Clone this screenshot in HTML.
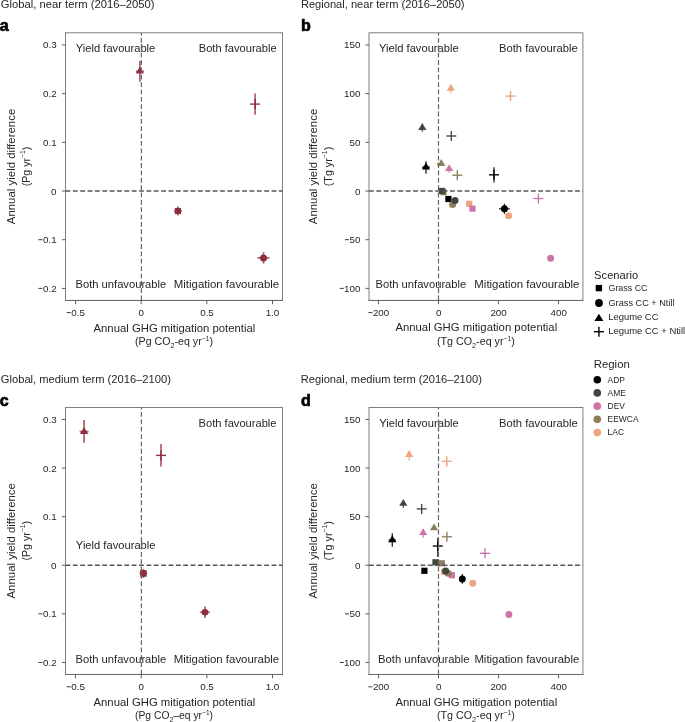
<!DOCTYPE html>
<html><head><meta charset="utf-8"><style>
html,body{margin:0;padding:0;background:#fff;}
svg{display:block;font-family:"Liberation Sans", sans-serif;will-change:transform;}
</style></head><body>
<svg width="685" height="722" viewBox="0 0 685 722">
<rect width="685" height="722" fill="#fff"/>
<text x="0.79" y="8.0" font-size="11" fill="#262626" textLength="153.61" lengthAdjust="spacingAndGlyphs">Global, near term (2016–2050)</text>
<text x="300.92" y="8.0" font-size="11" fill="#262626" textLength="163.66" lengthAdjust="spacingAndGlyphs">Regional, near term (2016–2050)</text>
<text x="0.79" y="383.4" font-size="11" fill="#262626" textLength="170.17" lengthAdjust="spacingAndGlyphs">Global, medium term (2016–2100)</text>
<text x="300.82" y="383.4" font-size="11" fill="#262626" textLength="181.05" lengthAdjust="spacingAndGlyphs">Regional, medium term (2016–2100)</text>
<text x="-0.3" y="30.6" font-size="16" font-weight="bold" fill="#000" stroke="#000" stroke-width="0.65">a</text>
<text x="301.0" y="30.6" font-size="16" font-weight="bold" fill="#000" stroke="#000" stroke-width="0.65">b</text>
<text x="-0.3" y="405.7" font-size="16" font-weight="bold" fill="#000" stroke="#000" stroke-width="0.65">c</text>
<text x="301.0" y="405.5" font-size="16" font-weight="bold" fill="#000" stroke="#000" stroke-width="0.65">d</text>
<rect x="65.5" y="32.8" width="217.00" height="267.60" fill="none" stroke="#7f7f7f" stroke-width="1"/>
<line x1="65.0" y1="300.5" x2="283.0" y2="300.5" stroke="#6a6a6a" stroke-width="1"/>
<line x1="61.9" y1="44.96" x2="65.5" y2="44.96" stroke="#4d4d4d" stroke-width="0.9"/>
<text x="42.98" y="48.46" font-size="9.8" fill="#262626">0.3</text>
<line x1="61.9" y1="93.646" x2="65.5" y2="93.646" stroke="#4d4d4d" stroke-width="0.9"/>
<text x="42.98" y="97.146" font-size="9.8" fill="#262626">0.2</text>
<line x1="61.9" y1="142.332" x2="65.5" y2="142.332" stroke="#4d4d4d" stroke-width="0.9"/>
<text x="42.98" y="145.832" font-size="9.8" fill="#262626">0.1</text>
<line x1="61.9" y1="191.018" x2="65.5" y2="191.018" stroke="#4d4d4d" stroke-width="0.9"/>
<text x="50.98" y="194.518" font-size="9.8" fill="#262626">0</text>
<line x1="61.9" y1="239.704" x2="65.5" y2="239.704" stroke="#4d4d4d" stroke-width="0.9"/>
<text x="42.98" y="243.204" font-size="9.8" fill="#262626">0.1</text>
<line x1="38.4" y1="239.7" x2="42.4" y2="239.7" stroke="#262626" stroke-width="0.9"/>
<line x1="61.9" y1="288.39" x2="65.5" y2="288.39" stroke="#4d4d4d" stroke-width="0.9"/>
<text x="42.98" y="291.89" font-size="9.8" fill="#262626">0.2</text>
<line x1="38.4" y1="288.39" x2="42.4" y2="288.39" stroke="#262626" stroke-width="0.9"/>
<line x1="75.52" y1="300.4" x2="75.52" y2="304.2" stroke="#4d4d4d" stroke-width="0.9"/>
<text x="71.33" y="316.1" font-size="9.8" fill="#262626">0.5</text>
<line x1="66.76" y1="312.6" x2="70.76" y2="312.6" stroke="#262626" stroke-width="0.9"/>
<line x1="141.187" y1="300.4" x2="141.187" y2="304.2" stroke="#4d4d4d" stroke-width="0.9"/>
<text x="138.59" y="316.1" font-size="9.8" fill="#262626">0</text>
<line x1="206.85399999999998" y1="300.4" x2="206.85399999999998" y2="304.2" stroke="#4d4d4d" stroke-width="0.9"/>
<text x="200.19" y="316.1" font-size="9.8" fill="#262626">0.5</text>
<line x1="272.521" y1="300.4" x2="272.521" y2="304.2" stroke="#4d4d4d" stroke-width="0.9"/>
<text x="265.67" y="316.1" font-size="9.8" fill="#262626">1.0</text>
<rect x="369.0" y="32.8" width="213.90" height="267.60" fill="none" stroke="#7f7f7f" stroke-width="1"/>
<line x1="368.5" y1="300.5" x2="583.4" y2="300.5" stroke="#6a6a6a" stroke-width="1"/>
<line x1="365.4" y1="44.96" x2="369.0" y2="44.96" stroke="#4d4d4d" stroke-width="0.9"/>
<text x="344.0" y="48.46" font-size="9.8" fill="#262626">150</text>
<line x1="365.4" y1="93.646" x2="369.0" y2="93.646" stroke="#4d4d4d" stroke-width="0.9"/>
<text x="344.0" y="97.146" font-size="9.8" fill="#262626">100</text>
<line x1="365.4" y1="142.332" x2="369.0" y2="142.332" stroke="#4d4d4d" stroke-width="0.9"/>
<text x="349.5" y="145.832" font-size="9.8" fill="#262626">50</text>
<line x1="365.4" y1="191.018" x2="369.0" y2="191.018" stroke="#4d4d4d" stroke-width="0.9"/>
<text x="354.88" y="194.518" font-size="9.8" fill="#262626">0</text>
<line x1="365.4" y1="239.704" x2="369.0" y2="239.704" stroke="#4d4d4d" stroke-width="0.9"/>
<text x="349.5" y="243.204" font-size="9.8" fill="#262626">50</text>
<line x1="344.93" y1="239.7" x2="348.93" y2="239.7" stroke="#262626" stroke-width="0.9"/>
<line x1="365.4" y1="288.39" x2="369.0" y2="288.39" stroke="#4d4d4d" stroke-width="0.9"/>
<text x="344.0" y="291.89" font-size="9.8" fill="#262626">100</text>
<line x1="339.8" y1="288.39" x2="343.8" y2="288.39" stroke="#262626" stroke-width="0.9"/>
<line x1="378.52" y1="300.4" x2="378.52" y2="304.2" stroke="#4d4d4d" stroke-width="0.9"/>
<text x="372.89" y="316.1" font-size="9.8" fill="#262626">200</text>
<line x1="368.44" y1="312.6" x2="372.44" y2="312.6" stroke="#262626" stroke-width="0.9"/>
<line x1="438.507" y1="300.4" x2="438.507" y2="304.2" stroke="#4d4d4d" stroke-width="0.9"/>
<text x="435.91" y="316.1" font-size="9.8" fill="#262626">0</text>
<line x1="498.49399999999997" y1="300.4" x2="498.49399999999997" y2="304.2" stroke="#4d4d4d" stroke-width="0.9"/>
<text x="490.39" y="316.1" font-size="9.8" fill="#262626">200</text>
<line x1="558.481" y1="300.4" x2="558.481" y2="304.2" stroke="#4d4d4d" stroke-width="0.9"/>
<text x="550.51" y="316.1" font-size="9.8" fill="#262626">400</text>
<rect x="65.5" y="407.5" width="217.00" height="266.95" fill="none" stroke="#7f7f7f" stroke-width="1"/>
<line x1="65.0" y1="674.5" x2="283.0" y2="674.5" stroke="#6a6a6a" stroke-width="1"/>
<line x1="61.9" y1="419.45" x2="65.5" y2="419.45" stroke="#4d4d4d" stroke-width="0.9"/>
<text x="42.98" y="422.95" font-size="9.8" fill="#262626">0.3</text>
<line x1="61.9" y1="468.056" x2="65.5" y2="468.056" stroke="#4d4d4d" stroke-width="0.9"/>
<text x="42.98" y="471.556" font-size="9.8" fill="#262626">0.2</text>
<line x1="61.9" y1="516.662" x2="65.5" y2="516.662" stroke="#4d4d4d" stroke-width="0.9"/>
<text x="42.98" y="520.162" font-size="9.8" fill="#262626">0.1</text>
<line x1="61.9" y1="565.268" x2="65.5" y2="565.268" stroke="#4d4d4d" stroke-width="0.9"/>
<text x="50.98" y="568.768" font-size="9.8" fill="#262626">0</text>
<line x1="61.9" y1="613.874" x2="65.5" y2="613.874" stroke="#4d4d4d" stroke-width="0.9"/>
<text x="42.98" y="617.374" font-size="9.8" fill="#262626">0.1</text>
<line x1="38.4" y1="613.87" x2="42.4" y2="613.87" stroke="#262626" stroke-width="0.9"/>
<line x1="61.9" y1="662.48" x2="65.5" y2="662.48" stroke="#4d4d4d" stroke-width="0.9"/>
<text x="42.98" y="665.98" font-size="9.8" fill="#262626">0.2</text>
<line x1="38.4" y1="662.48" x2="42.4" y2="662.48" stroke="#262626" stroke-width="0.9"/>
<line x1="75.52" y1="674.45" x2="75.52" y2="678.25" stroke="#4d4d4d" stroke-width="0.9"/>
<text x="71.33" y="690.3" font-size="9.8" fill="#262626">0.5</text>
<line x1="66.76" y1="686.8" x2="70.76" y2="686.8" stroke="#262626" stroke-width="0.9"/>
<line x1="141.187" y1="674.45" x2="141.187" y2="678.25" stroke="#4d4d4d" stroke-width="0.9"/>
<text x="138.59" y="690.3" font-size="9.8" fill="#262626">0</text>
<line x1="206.85399999999998" y1="674.45" x2="206.85399999999998" y2="678.25" stroke="#4d4d4d" stroke-width="0.9"/>
<text x="200.19" y="690.3" font-size="9.8" fill="#262626">0.5</text>
<line x1="272.521" y1="674.45" x2="272.521" y2="678.25" stroke="#4d4d4d" stroke-width="0.9"/>
<text x="265.67" y="690.3" font-size="9.8" fill="#262626">1.0</text>
<rect x="369.0" y="407.5" width="213.90" height="266.95" fill="none" stroke="#7f7f7f" stroke-width="1"/>
<line x1="368.5" y1="674.5" x2="583.4" y2="674.5" stroke="#6a6a6a" stroke-width="1"/>
<line x1="365.4" y1="419.45" x2="369.0" y2="419.45" stroke="#4d4d4d" stroke-width="0.9"/>
<text x="344.0" y="422.95" font-size="9.8" fill="#262626">150</text>
<line x1="365.4" y1="468.056" x2="369.0" y2="468.056" stroke="#4d4d4d" stroke-width="0.9"/>
<text x="344.0" y="471.556" font-size="9.8" fill="#262626">100</text>
<line x1="365.4" y1="516.662" x2="369.0" y2="516.662" stroke="#4d4d4d" stroke-width="0.9"/>
<text x="349.5" y="520.162" font-size="9.8" fill="#262626">50</text>
<line x1="365.4" y1="565.268" x2="369.0" y2="565.268" stroke="#4d4d4d" stroke-width="0.9"/>
<text x="354.88" y="568.768" font-size="9.8" fill="#262626">0</text>
<line x1="365.4" y1="613.874" x2="369.0" y2="613.874" stroke="#4d4d4d" stroke-width="0.9"/>
<text x="349.5" y="617.374" font-size="9.8" fill="#262626">50</text>
<line x1="344.93" y1="613.87" x2="348.93" y2="613.87" stroke="#262626" stroke-width="0.9"/>
<line x1="365.4" y1="662.48" x2="369.0" y2="662.48" stroke="#4d4d4d" stroke-width="0.9"/>
<text x="344.0" y="665.98" font-size="9.8" fill="#262626">100</text>
<line x1="339.8" y1="662.48" x2="343.8" y2="662.48" stroke="#262626" stroke-width="0.9"/>
<line x1="378.52" y1="674.45" x2="378.52" y2="678.25" stroke="#4d4d4d" stroke-width="0.9"/>
<text x="372.89" y="690.3" font-size="9.8" fill="#262626">200</text>
<line x1="368.44" y1="686.8" x2="372.44" y2="686.8" stroke="#262626" stroke-width="0.9"/>
<line x1="438.507" y1="674.45" x2="438.507" y2="678.25" stroke="#4d4d4d" stroke-width="0.9"/>
<text x="435.91" y="690.3" font-size="9.8" fill="#262626">0</text>
<line x1="498.49399999999997" y1="674.45" x2="498.49399999999997" y2="678.25" stroke="#4d4d4d" stroke-width="0.9"/>
<text x="490.39" y="690.3" font-size="9.8" fill="#262626">200</text>
<line x1="558.481" y1="674.45" x2="558.481" y2="678.25" stroke="#4d4d4d" stroke-width="0.9"/>
<text x="550.51" y="690.3" font-size="9.8" fill="#262626">400</text>
<text x="93.50" y="331.6" font-size="11" fill="#262626" textLength="161.80" lengthAdjust="spacingAndGlyphs">Annual GHG mitigation potential</text>
<text x="174.0" y="345.4" font-size="11" text-anchor="middle" fill="#262626" textLength="78" lengthAdjust="spacingAndGlyphs">(Pg CO<tspan font-size="7.5" dy="2.6">2</tspan><tspan dy="-2.6">-eq yr</tspan><tspan font-size="7" dy="-4.2">−1</tspan><tspan dy="4.2">)</tspan></text>
<text x="395.40" y="331.4" font-size="11" fill="#262626" textLength="161.80" lengthAdjust="spacingAndGlyphs">Annual GHG mitigation potential</text>
<text x="475.9" y="345.3" font-size="11" text-anchor="middle" fill="#262626" textLength="78" lengthAdjust="spacingAndGlyphs">(Tg CO<tspan font-size="7.5" dy="2.6">2</tspan><tspan dy="-2.6">-eq yr</tspan><tspan font-size="7" dy="-4.2">−1</tspan><tspan dy="4.2">)</tspan></text>
<text x="93.50" y="705.6" font-size="11" fill="#262626" textLength="161.80" lengthAdjust="spacingAndGlyphs">Annual GHG mitigation potential</text>
<text x="174.0" y="719.4" font-size="11" text-anchor="middle" fill="#262626" textLength="78" lengthAdjust="spacingAndGlyphs">(Pg CO<tspan font-size="7.5" dy="2.6">2</tspan><tspan dy="-2.6">–eq yr</tspan><tspan font-size="7" dy="-4.2">−1</tspan><tspan dy="4.2">)</tspan></text>
<text x="395.40" y="705.8" font-size="11" fill="#262626" textLength="161.80" lengthAdjust="spacingAndGlyphs">Annual GHG mitigation potential</text>
<text x="475.9" y="719.0" font-size="11" text-anchor="middle" fill="#262626" textLength="78" lengthAdjust="spacingAndGlyphs">(Tg CO<tspan font-size="7.5" dy="2.6">2</tspan><tspan dy="-2.6">-eq yr</tspan><tspan font-size="7" dy="-4.2">−1</tspan><tspan dy="4.2">)</tspan></text>
<g transform="translate(15.3,166.5) rotate(-90)"><text x="0" y="0" font-size="11" text-anchor="middle" fill="#262626" textLength="115.5" lengthAdjust="spacingAndGlyphs">Annual yield difference</text></g>
<g transform="translate(29.5,166.5) rotate(-90)"><text x="0" y="0" font-size="11" text-anchor="middle" fill="#262626" textLength="39.5" lengthAdjust="spacingAndGlyphs">(Pg yr<tspan font-size="7" dy="-4.2">−1</tspan><tspan dy="4.2">)</tspan></text></g>
<g transform="translate(317.2,166.5) rotate(-90)"><text x="0" y="0" font-size="11" text-anchor="middle" fill="#262626" textLength="115.5" lengthAdjust="spacingAndGlyphs">Annual yield difference</text></g>
<g transform="translate(331.6,166.5) rotate(-90)"><text x="0" y="0" font-size="11" text-anchor="middle" fill="#262626" textLength="39.5" lengthAdjust="spacingAndGlyphs">(Tg yr<tspan font-size="7" dy="-4.2">−1</tspan><tspan dy="4.2">)</tspan></text></g>
<g transform="translate(15.3,540.8) rotate(-90)"><text x="0" y="0" font-size="11" text-anchor="middle" fill="#262626" textLength="115.5" lengthAdjust="spacingAndGlyphs">Annual yield difference</text></g>
<g transform="translate(29.5,540.8) rotate(-90)"><text x="0" y="0" font-size="11" text-anchor="middle" fill="#262626" textLength="39.5" lengthAdjust="spacingAndGlyphs">(Pg yr<tspan font-size="7" dy="-4.2">−1</tspan><tspan dy="4.2">)</tspan></text></g>
<g transform="translate(317.2,540.8) rotate(-90)"><text x="0" y="0" font-size="11" text-anchor="middle" fill="#262626" textLength="115.5" lengthAdjust="spacingAndGlyphs">Annual yield difference</text></g>
<g transform="translate(331.6,540.8) rotate(-90)"><text x="0" y="0" font-size="11" text-anchor="middle" fill="#262626" textLength="39.5" lengthAdjust="spacingAndGlyphs">(Tg yr<tspan font-size="7" dy="-4.2">−1</tspan><tspan dy="4.2">)</tspan></text></g>
<text x="75.85" y="52.0" font-size="11" fill="#262626" textLength="79.44" lengthAdjust="spacingAndGlyphs">Yield favourable</text>
<text x="198.72" y="51.8" font-size="11" fill="#262626" textLength="77.93" lengthAdjust="spacingAndGlyphs">Both favourable</text>
<text x="75.51" y="287.8" font-size="11" fill="#262626" textLength="90.74" lengthAdjust="spacingAndGlyphs">Both unfavourable</text>
<text x="173.79" y="287.8" font-size="11" fill="#262626" textLength="105.44" lengthAdjust="spacingAndGlyphs">Mitigation favourable</text>
<text x="379.05" y="51.8" font-size="11" fill="#262626" textLength="79.65" lengthAdjust="spacingAndGlyphs">Yield favourable</text>
<text x="499.01" y="51.7" font-size="11" fill="#262626" textLength="78.64" lengthAdjust="spacingAndGlyphs">Both favourable</text>
<text x="375.51" y="287.8" font-size="11" fill="#262626" textLength="90.74" lengthAdjust="spacingAndGlyphs">Both unfavourable</text>
<text x="474.39" y="287.8" font-size="11" fill="#262626" textLength="105.04" lengthAdjust="spacingAndGlyphs">Mitigation favourable</text>
<text x="75.85" y="548.8" font-size="11" fill="#262626" textLength="79.65" lengthAdjust="spacingAndGlyphs">Yield favourable</text>
<text x="198.62" y="426.8" font-size="11" fill="#262626" textLength="77.93" lengthAdjust="spacingAndGlyphs">Both favourable</text>
<text x="75.51" y="662.7" font-size="11" fill="#262626" textLength="90.74" lengthAdjust="spacingAndGlyphs">Both unfavourable</text>
<text x="173.79" y="662.7" font-size="11" fill="#262626" textLength="105.44" lengthAdjust="spacingAndGlyphs">Mitigation favourable</text>
<text x="379.25" y="426.6" font-size="11" fill="#262626" textLength="79.54" lengthAdjust="spacingAndGlyphs">Yield favourable</text>
<text x="499.01" y="426.6" font-size="11" fill="#262626" textLength="78.64" lengthAdjust="spacingAndGlyphs">Both favourable</text>
<text x="378.10" y="662.7" font-size="11" fill="#262626" textLength="91.35" lengthAdjust="spacingAndGlyphs">Both unfavourable</text>
<text x="474.40" y="662.7" font-size="11" fill="#262626" textLength="104.84" lengthAdjust="spacingAndGlyphs">Mitigation favourable</text>
<line x1="135.9" y1="71.3" x2="143.9" y2="71.3" stroke="#8f2e3e" stroke-width="1.8" stroke-opacity="0.72"/>
<line x1="139.9" y1="61.099999999999994" x2="139.9" y2="81.8" stroke="#8f2e3e" stroke-width="1.8" stroke-opacity="0.72"/>
<path d="M139.90 66.70L144.00 73.60L135.80 73.60Z" fill="#8f2e3e"/>
<line x1="255.1" y1="93.39999999999999" x2="255.1" y2="114.69999999999999" stroke="#8f2e3e" stroke-width="1.8" stroke-opacity="0.72"/>
<line x1="250.1" y1="104.1" x2="260.1" y2="104.1" stroke="#8f2e3e" stroke-width="1.35"/>
<line x1="255.1" y1="99.1" x2="255.1" y2="109.1" stroke="#8f2e3e" stroke-width="1.35"/>
<line x1="173.9" y1="211.0" x2="181.9" y2="211.0" stroke="#8f2e3e" stroke-width="1.8" stroke-opacity="0.72"/>
<line x1="177.9" y1="206.5" x2="177.9" y2="215.5" stroke="#8f2e3e" stroke-width="1.8" stroke-opacity="0.72"/>
<rect x="174.80" y="207.90" width="6.2" height="6.2" fill="#8f2e3e"/>
<line x1="257.5" y1="257.9" x2="269.5" y2="257.9" stroke="#8f2e3e" stroke-width="1.8" stroke-opacity="0.72"/>
<line x1="263.5" y1="252.2" x2="263.5" y2="263.59999999999997" stroke="#8f2e3e" stroke-width="1.8" stroke-opacity="0.72"/>
<circle cx="263.50" cy="257.90" r="3.5" fill="#8f2e3e"/>
<line x1="79.6" y1="431.6" x2="88.6" y2="431.6" stroke="#8f2e3e" stroke-width="1.8" stroke-opacity="0.72"/>
<line x1="84.1" y1="420.1" x2="84.1" y2="442.8" stroke="#8f2e3e" stroke-width="1.8" stroke-opacity="0.72"/>
<path d="M84.10 427.00L88.20 433.90L80.00 433.90Z" fill="#8f2e3e"/>
<line x1="161.0" y1="444.0" x2="161.0" y2="466.59999999999997" stroke="#8f2e3e" stroke-width="1.8" stroke-opacity="0.72"/>
<line x1="156.0" y1="455.4" x2="166.0" y2="455.4" stroke="#8f2e3e" stroke-width="1.35"/>
<line x1="161.0" y1="450.4" x2="161.0" y2="460.4" stroke="#8f2e3e" stroke-width="1.35"/>
<line x1="139.6" y1="573.4" x2="147.20000000000002" y2="573.4" stroke="#8f2e3e" stroke-width="1.8" stroke-opacity="0.72"/>
<line x1="143.4" y1="568.9" x2="143.4" y2="577.9" stroke="#8f2e3e" stroke-width="1.8" stroke-opacity="0.72"/>
<rect x="140.10" y="570.10" width="6.6" height="6.6" fill="#8f2e3e"/>
<line x1="200.2" y1="612.2" x2="209.8" y2="612.2" stroke="#8f2e3e" stroke-width="1.8" stroke-opacity="0.72"/>
<line x1="205.0" y1="606.5" x2="205.0" y2="617.9000000000001" stroke="#8f2e3e" stroke-width="1.8" stroke-opacity="0.72"/>
<circle cx="205.00" cy="612.20" r="3.3" fill="#8f2e3e"/>
<rect x="466.10" y="200.70" width="6.2" height="6.2" fill="#eda47f"/>
<rect x="440.40" y="189.10" width="6.2" height="6.2" fill="#8e7d5c"/>
<rect x="469.40" y="205.50" width="6.2" height="6.2" fill="#cb74aa"/>
<rect x="438.90" y="187.80" width="6.2" height="6.2" fill="#41463a"/>
<rect x="445.30" y="195.90" width="6.2" height="6.2" fill="#000000"/>
<circle cx="508.65" cy="215.85" r="3.5" fill="#eda47f"/>
<circle cx="452.60" cy="204.50" r="3.5" fill="#8e7d5c"/>
<circle cx="550.60" cy="258.20" r="3.5" fill="#cb74aa"/>
<circle cx="455.00" cy="200.60" r="3.5" fill="#41463a"/>
<line x1="499.0" y1="208.8" x2="509.79999999999995" y2="208.8" stroke="#000000" stroke-width="1.3" stroke-opacity="0.85"/>
<line x1="504.4" y1="203.70000000000002" x2="504.4" y2="213.9" stroke="#000000" stroke-width="1.3" stroke-opacity="0.85"/>
<circle cx="504.40" cy="208.80" r="3.5" fill="#000000"/>
<line x1="450.8" y1="88.4" x2="450.8" y2="93.60000000000001" stroke="#eda47f" stroke-width="1.3" stroke-opacity="0.85"/>
<path d="M450.80 83.80L454.90 90.70L446.70 90.70Z" fill="#eda47f"/>
<line x1="437.0" y1="163.6" x2="441.3" y2="163.6" stroke="#8e7d5c" stroke-width="1.3" stroke-opacity="0.85"/>
<path d="M441.30 159.00L445.40 165.90L437.20 165.90Z" fill="#8e7d5c"/>
<line x1="449.2" y1="168.8" x2="449.2" y2="172.60000000000002" stroke="#cb74aa" stroke-width="1.3" stroke-opacity="0.85"/>
<path d="M449.20 164.20L453.30 171.10L445.10 171.10Z" fill="#cb74aa"/>
<line x1="422.3" y1="127.6" x2="422.3" y2="131.79999999999998" stroke="#41463a" stroke-width="1.3" stroke-opacity="0.85"/>
<path d="M422.30 123.00L426.40 129.90L418.20 129.90Z" fill="#41463a"/>
<line x1="422.0" y1="167.1" x2="430.0" y2="167.1" stroke="#000000" stroke-width="1.3" stroke-opacity="0.85"/>
<line x1="426.0" y1="161.2" x2="426.0" y2="173.79999999999998" stroke="#000000" stroke-width="1.3" stroke-opacity="0.85"/>
<path d="M426.00 162.50L430.10 169.40L421.90 169.40Z" fill="#000000"/>
<line x1="505.5" y1="96.1" x2="515.5" y2="96.1" stroke="#eda47f" stroke-width="1.35"/>
<line x1="510.5" y1="91.1" x2="510.5" y2="101.1" stroke="#eda47f" stroke-width="1.35"/>
<line x1="452.3" y1="175.2" x2="462.3" y2="175.2" stroke="#8e7d5c" stroke-width="1.35"/>
<line x1="457.3" y1="170.2" x2="457.3" y2="180.2" stroke="#8e7d5c" stroke-width="1.35"/>
<line x1="533.4" y1="198.5" x2="543.4" y2="198.5" stroke="#cb74aa" stroke-width="1.35"/>
<line x1="538.4" y1="193.5" x2="538.4" y2="203.5" stroke="#cb74aa" stroke-width="1.35"/>
<line x1="446.3" y1="136.0" x2="456.3" y2="136.0" stroke="#41463a" stroke-width="1.35"/>
<line x1="451.3" y1="131.0" x2="451.3" y2="141.0" stroke="#41463a" stroke-width="1.35"/>
<line x1="494.0" y1="167.20000000000002" x2="494.0" y2="182.4" stroke="#000000" stroke-width="1.3" stroke-opacity="0.85"/>
<line x1="489.0" y1="174.8" x2="499.0" y2="174.8" stroke="#000000" stroke-width="1.35"/>
<line x1="494.0" y1="169.8" x2="494.0" y2="179.8" stroke="#000000" stroke-width="1.35"/>
<rect x="441.10" y="568.80" width="6.2" height="6.2" fill="#eda47f"/>
<rect x="438.80" y="560.20" width="6.2" height="6.2" fill="#8e7d5c"/>
<rect x="448.80" y="572.10" width="6.2" height="6.2" fill="#cb74aa"/>
<rect x="432.40" y="559.20" width="6.2" height="6.2" fill="#41463a"/>
<rect x="421.30" y="567.70" width="6.2" height="6.2" fill="#000000"/>
<circle cx="472.80" cy="583.30" r="3.5" fill="#eda47f"/>
<circle cx="448.10" cy="573.20" r="3.5" fill="#8e7d5c"/>
<circle cx="508.90" cy="614.40" r="3.5" fill="#cb74aa"/>
<circle cx="445.60" cy="571.00" r="3.5" fill="#41463a"/>
<line x1="462.3" y1="574.0" x2="462.3" y2="583.6999999999999" stroke="#000000" stroke-width="1.3" stroke-opacity="0.85"/>
<circle cx="462.30" cy="578.90" r="3.5" fill="#000000"/>
<line x1="409.2" y1="454.7" x2="409.2" y2="460.5" stroke="#eda47f" stroke-width="1.3" stroke-opacity="0.85"/>
<path d="M409.20 450.10L413.30 457.00L405.10 457.00Z" fill="#eda47f"/>
<path d="M434.10 523.40L438.20 530.30L430.00 530.30Z" fill="#8e7d5c"/>
<line x1="423.2" y1="532.8" x2="423.2" y2="537.8" stroke="#cb74aa" stroke-width="1.3" stroke-opacity="0.85"/>
<path d="M423.20 528.20L427.30 535.10L419.10 535.10Z" fill="#cb74aa"/>
<line x1="403.3" y1="503.5" x2="403.3" y2="508.1" stroke="#41463a" stroke-width="1.3" stroke-opacity="0.85"/>
<path d="M403.30 498.90L407.40 505.80L399.20 505.80Z" fill="#41463a"/>
<line x1="388.7" y1="539.9" x2="395.90000000000003" y2="539.9" stroke="#000000" stroke-width="1.3" stroke-opacity="0.85"/>
<line x1="392.3" y1="533.1999999999999" x2="392.3" y2="546.6999999999999" stroke="#000000" stroke-width="1.3" stroke-opacity="0.85"/>
<path d="M392.30 535.30L396.40 542.20L388.20 542.20Z" fill="#000000"/>
<line x1="446.7" y1="460.7" x2="446.7" y2="466.8" stroke="#eda47f" stroke-width="1.3" stroke-opacity="0.85"/>
<line x1="441.7" y1="461.2" x2="451.7" y2="461.2" stroke="#eda47f" stroke-width="1.35"/>
<line x1="446.7" y1="456.2" x2="446.7" y2="466.2" stroke="#eda47f" stroke-width="1.35"/>
<line x1="441.9" y1="536.8" x2="451.9" y2="536.8" stroke="#8e7d5c" stroke-width="1.35"/>
<line x1="446.9" y1="531.8" x2="446.9" y2="541.8" stroke="#8e7d5c" stroke-width="1.35"/>
<line x1="480.0" y1="553.3" x2="490.0" y2="553.3" stroke="#cb74aa" stroke-width="1.35"/>
<line x1="485.0" y1="548.3" x2="485.0" y2="558.3" stroke="#cb74aa" stroke-width="1.35"/>
<line x1="416.7" y1="508.9" x2="426.7" y2="508.9" stroke="#41463a" stroke-width="1.35"/>
<line x1="421.7" y1="503.9" x2="421.7" y2="513.9" stroke="#41463a" stroke-width="1.35"/>
<line x1="437.8" y1="537.8" x2="437.8" y2="557.0" stroke="#000000" stroke-width="1.3" stroke-opacity="0.85"/>
<line x1="432.8" y1="546.0" x2="442.8" y2="546.0" stroke="#000000" stroke-width="1.35"/>
<line x1="437.8" y1="541.0" x2="437.8" y2="551.0" stroke="#000000" stroke-width="1.35"/>
<line x1="65.5" y1="191.018" x2="282.5" y2="191.018" stroke="#575757" stroke-width="1.3" stroke-dasharray="4.8 2.56"/>
<line x1="141.4" y1="300.4" x2="141.4" y2="32.8" stroke="#666666" stroke-width="1.2" stroke-dasharray="4.8 2.56"/>
<line x1="369.0" y1="191.018" x2="582.9" y2="191.018" stroke="#575757" stroke-width="1.3" stroke-dasharray="4.8 2.56"/>
<line x1="438.5" y1="300.4" x2="438.5" y2="32.8" stroke="#666666" stroke-width="1.2" stroke-dasharray="4.8 2.56"/>
<line x1="65.5" y1="565.268" x2="282.5" y2="565.268" stroke="#575757" stroke-width="1.3" stroke-dasharray="4.8 2.56"/>
<line x1="141.4" y1="674.45" x2="141.4" y2="407.5" stroke="#666666" stroke-width="1.2" stroke-dasharray="4.8 2.56"/>
<line x1="369.0" y1="565.268" x2="582.9" y2="565.268" stroke="#575757" stroke-width="1.3" stroke-dasharray="4.8 2.56"/>
<line x1="438.5" y1="674.45" x2="438.5" y2="407.5" stroke="#666666" stroke-width="1.2" stroke-dasharray="4.8 2.56"/>
<text x="594.09" y="278.7" font-size="11" fill="#262626" textLength="44.14" lengthAdjust="spacingAndGlyphs">Scenario</text>
<rect x="595.70" y="284.90" width="6.4" height="6.4" fill="#000"/>
<text x="608.51" y="291.1" font-size="9" fill="#262626" textLength="38.98" lengthAdjust="spacingAndGlyphs">Grass CC</text>
<circle cx="599.00" cy="303.00" r="3.9" fill="#000"/>
<text x="608.49" y="305.7" font-size="9" fill="#262626" textLength="66.06" lengthAdjust="spacingAndGlyphs">Grass CC + Ntill</text>
<path d="M598.90 313.80L603.40 321.00L594.40 321.00Z" fill="#000"/>
<text x="608.22" y="320.0" font-size="9" fill="#262626" textLength="50.21" lengthAdjust="spacingAndGlyphs">Legume CC</text>
<line x1="593.9" y1="331.7" x2="603.9" y2="331.7" stroke="#000" stroke-width="1.4"/>
<line x1="598.9" y1="326.7" x2="598.9" y2="336.7" stroke="#000" stroke-width="1.4"/>
<text x="608.21" y="334.1" font-size="9" fill="#262626" textLength="76.95" lengthAdjust="spacingAndGlyphs">Legume CC + Ntill</text>
<text x="593.80" y="367.9" font-size="11" fill="#262626" textLength="35.96" lengthAdjust="spacingAndGlyphs">Region</text>
<circle cx="597.30" cy="379.70" r="3.8" fill="#000000"/>
<text x="607.6" y="382.5" font-size="8.45" fill="#262626">ADP</text>
<circle cx="597.30" cy="392.92" r="3.8" fill="#41463a"/>
<text x="607.6" y="395.72" font-size="8.45" fill="#262626">AME</text>
<circle cx="597.30" cy="406.14" r="3.8" fill="#cb74aa"/>
<text x="607.6" y="408.94" font-size="8.45" fill="#262626">DEV</text>
<circle cx="597.30" cy="419.36" r="3.8" fill="#8e7d5c"/>
<text x="607.6" y="422.16" font-size="8.45" fill="#262626">EEWCA</text>
<circle cx="597.30" cy="432.58" r="3.8" fill="#eda47f"/>
<text x="607.6" y="435.38" font-size="8.45" fill="#262626">LAC</text>
</svg>
</body></html>
